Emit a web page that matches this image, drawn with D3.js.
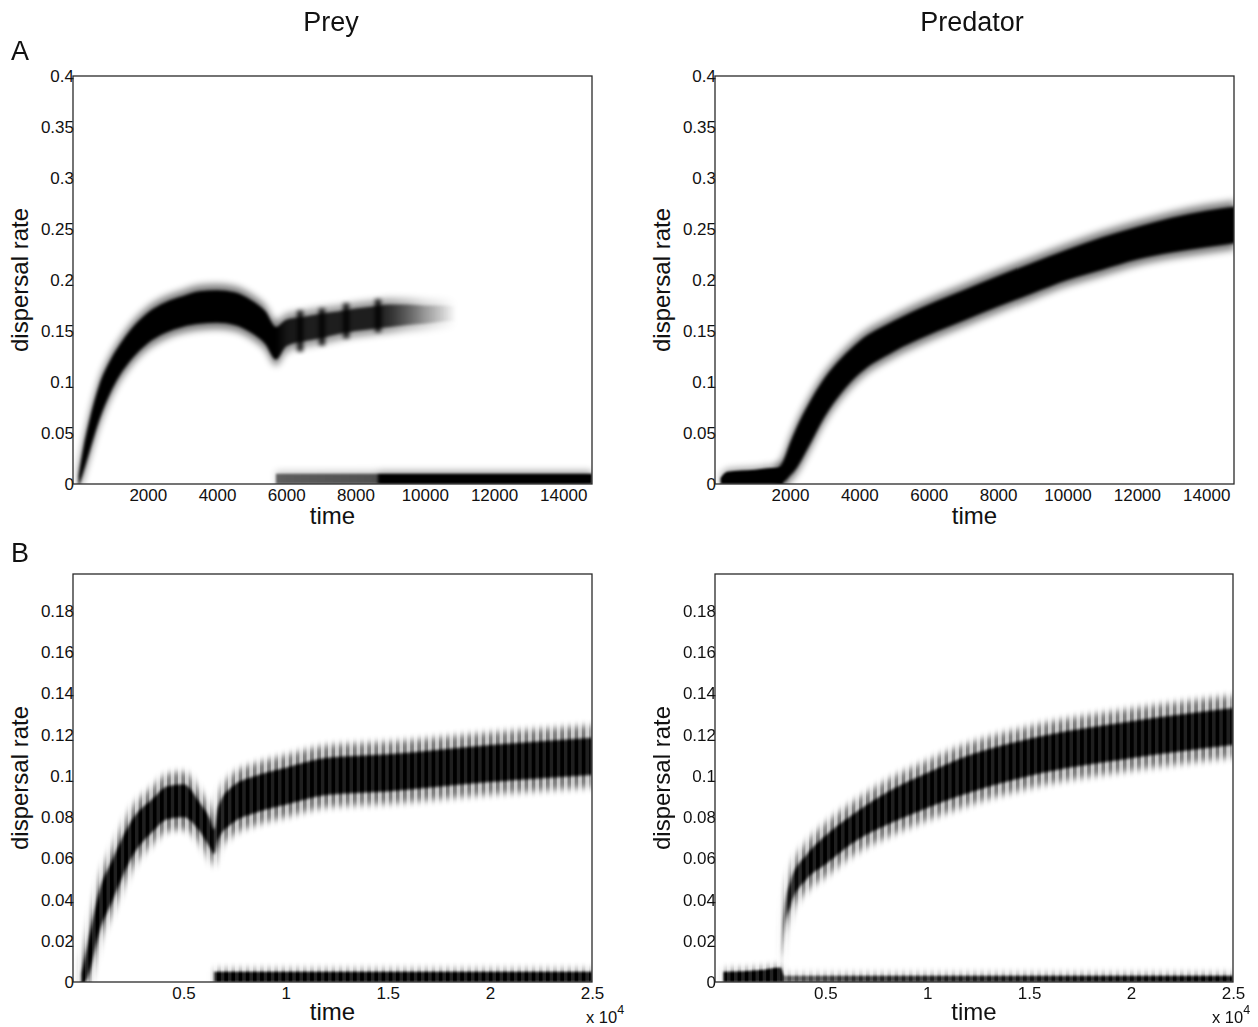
<!DOCTYPE html>
<html><head><meta charset="utf-8">
<script src="https://cdn.jsdelivr.net/npm/d3@7"></script>
<style>
body{margin:0;background:#fff}
svg{display:block}
text{font-family:"Liberation Sans",Arial,Helvetica,sans-serif;fill:#111}
</style>
</head><body>
<svg id="c" width="1258" height="1027"></svg>
<script>
// ---------------- DATA ----------------
// Panel A – prey, main branch
const preyA_t    = [0, 150, 300, 600, 900, 1200, 1500, 2000, 2500, 3000, 3500, 4000, 4500, 5000, 5400, 5700, 6000, 6500, 7000, 7500, 8000, 8500, 8700, 9000, 9500, 10000, 10500, 10900];
const preyA_mid  = [0.002, 0.025, 0.045, 0.080, 0.104, 0.122, 0.136, 0.153, 0.163, 0.169, 0.173, 0.174, 0.172, 0.164, 0.153, 0.138, 0.148, 0.152, 0.155, 0.158, 0.161, 0.163, 0.164, 0.165, 0.166, 0.166, 0.167, 0.167];
const preyA_half = [0.006, 0.012, 0.015, 0.017, 0.016, 0.015, 0.015, 0.015, 0.015, 0.015, 0.016, 0.016, 0.016, 0.016, 0.016, 0.016, 0.013, 0.012, 0.012, 0.011, 0.011, 0.011, 0.011, 0.011, 0.010, 0.009, 0.008, 0.007];
const preyA_ink  = [1, 1, 1, 1, 1, 1, 1, 1, 1, 1, 1, 1, 1, 1, 1, 1, 0.85, 0.8, 0.8, 0.8, 0.8, 0.8, 0.8, 0.7, 0.5, 0.3, 0.14, 0.0];
// Panel A – prey, pulses (dark vertical bars)
const preyA_pulse_t   = [6400, 7030, 7730, 8650];
const preyA_pulse_mid = [0.150, 0.154, 0.160, 0.165];
const preyA_pulse_half= [0.020, 0.018, 0.017, 0.016];
// Panel A – prey, low branch
const preyLowA_t    = [5700, 8600, 8700, 14830];
const preyLowA_mid  = [0.005, 0.005, 0.005, 0.005];
const preyLowA_half = [0.005, 0.005, 0.005, 0.005];
const preyLowA_ink  = [0.55, 0.6, 1, 1];

// Panel A – predator, low branch
const predLowA_t    = [0, 200, 1000, 1600, 1800];
const predLowA_mid  = [0.003, 0.006, 0.007, 0.008, 0.008];
const predLowA_half = [0.003, 0.006, 0.007, 0.008, 0.008];
const predLowA_ink  = [1, 1, 1, 1, 1];
// Panel A – predator, main branch
const predA_t    = [1600, 1800, 2000, 2200, 2500, 3000, 3500, 4000, 5000, 6000, 7000, 8000, 9000, 10000, 11000, 12000, 13000, 14000, 14830];
const predA_mid  = [0.008, 0.012, 0.024, 0.036, 0.055, 0.085, 0.107, 0.124, 0.145, 0.161, 0.175, 0.189, 0.202, 0.215, 0.226, 0.236, 0.244, 0.250, 0.254];
const predA_half = [0.005, 0.010, 0.016, 0.020, 0.021, 0.019, 0.017, 0.016, 0.015, 0.015, 0.015, 0.015, 0.015, 0.015, 0.016, 0.016, 0.017, 0.018, 0.018];
const predA_ink  = [1, 1, 1, 1, 1, 1, 1, 1, 1, 1, 1, 1, 1, 1, 1, 1, 1, 1, 1];

// Panel B – prey, main branch
const preyB_t    = [0, 300, 900, 1500, 2500, 3500, 4200, 5000, 5800, 6300, 6500, 6700, 7400, 8500, 10000, 12000, 15000, 20000, 25000];
const preyB_mid  = [0.001, 0.010, 0.035, 0.049, 0.070, 0.081, 0.087, 0.088, 0.080, 0.072, 0.068, 0.077, 0.086, 0.091, 0.095, 0.0998, 0.1015, 0.106, 0.1095];
const preyB_half = [0.003, 0.008, 0.010, 0.010, 0.009, 0.008, 0.008, 0.008, 0.007, 0.007, 0.006, 0.008, 0.009, 0.009, 0.009, 0.009, 0.009, 0.009, 0.009];
const preyB_ink  = [1, 1, 1, 1, 1, 1, 1, 1, 1, 1, 0.9, 0.95, 1, 1, 1, 1, 1, 1, 1];
// Panel B – prey, low branch
const preyLowB_t    = [6500, 25000];
const preyLowB_mid  = [0.0025, 0.0025];
const preyLowB_half = [0.0025, 0.0025];
const preyLowB_ink  = [1, 1];

// Panel B – predator, low branch
const predLowB_t    = [0, 2000, 2800, 3000, 7000, 25000];
const predLowB_mid  = [0.0025, 0.003, 0.0035, 0.0015, 0.0015, 0.0015];
const predLowB_half = [0.0025, 0.003, 0.0035, 0.0015, 0.0015, 0.0015];
const predLowB_ink  = [1, 1, 1, 0.6, 0.8, 1];
// Panel B – predator, main branch
const predB_t    = [2850, 3000, 3300, 4100, 5000, 6500, 8200, 10000, 11500, 15000, 20000, 25000];
const predB_mid  = [0.012, 0.030, 0.043, 0.056, 0.064, 0.0754, 0.085, 0.093, 0.099, 0.109, 0.1176, 0.124];
const predB_half = [0.003, 0.005, 0.006, 0.006, 0.007, 0.007, 0.008, 0.0085, 0.009, 0.009, 0.009, 0.009];
const predB_ink  = [0.3, 0.75, 0.9, 1, 1, 1, 1, 1, 1, 1, 1, 1];

// Ticks
const yTicksA = [0, 0.05, 0.1, 0.15, 0.2, 0.25, 0.3, 0.35, 0.4];
const xTicksA = [2000, 4000, 6000, 8000, 10000, 12000, 14000];
const yTicksB = [0, 0.02, 0.04, 0.06, 0.08, 0.1, 0.12, 0.14, 0.16, 0.18];
const xTicksB = [5000, 10000, 15000, 20000, 25000];
const stripePeriodB = 350; // time units of oscillation stripes in B

// ---------------- BUILD ----------------
const W = 1258, H = 1027;
const svg = d3.select('#c');
const defs = svg.append('defs');
svg.append('rect').attr('width', W).attr('height', H).attr('fill', '#fff');

function mkBlur(id, sd) {
  const f = defs.append('filter').attr('id', id).attr('filterUnits', 'userSpaceOnUse')
    .attr('x', 0).attr('y', 0).attr('width', W).attr('height', H);
  f.append('feGaussianBlur').attr('stdDeviation', sd);
}
mkBlur('blurCore', 1.6);
mkBlur('blurFuzz', 3.5);
mkBlur('blurLow', 1.0);
mkBlur('blurPulse', 2.2);

function branch(t, mid, half, ink) {
  return t.map((v, i) => ({t: v, mid: mid[i], half: half[i], ink: ink[i]}));
}

let gid = 0;
function gradFor(pts, x) {
  const id = 'g' + (gid++);
  const x1 = x(pts[0].t), x2 = x(pts[pts.length - 1].t);
  const g = defs.append('linearGradient').attr('id', id).attr('gradientUnits', 'userSpaceOnUse')
    .attr('x1', x1).attr('x2', x2).attr('y1', 0).attr('y2', 0);
  pts.forEach(p => g.append('stop').attr('offset', (x(p.t) - x1) / (x2 - x1))
    .attr('stop-color', '#000').attr('stop-opacity', p.ink));
  return 'url(#' + id + ')';
}

function stripeMask(x, L, T, R, B, period, shade) {
  const pw = x(period) - x(0);
  const pid = 'pat' + (gid++);
  const pat = defs.append('pattern').attr('id', pid).attr('patternUnits', 'userSpaceOnUse')
    .attr('x', x(0)).attr('y', 0).attr('width', pw).attr('height', H);
  pat.append('rect').attr('width', pw).attr('height', H).attr('fill', '#fff');
  pat.append('rect').attr('x', pw * 0.5).attr('width', pw * 0.5).attr('height', H).attr('fill', shade);
  const mid = 'mask' + (gid++);
  defs.append('mask').attr('id', mid).attr('maskUnits', 'userSpaceOnUse')
    .attr('x', 0).attr('y', 0).attr('width', W).attr('height', H)
    .append('rect').attr('x', L).attr('y', T).attr('width', R - L).attr('height', B - T).attr('fill', 'url(#' + pid + ')');
  return 'url(#' + mid + ')';
}

function drawPanel(cfg) {
  const {L, T, R, B} = cfg;
  const x = d3.scaleLinear().domain(cfg.xDomain).range([L, R]);
  const y = d3.scaleLinear().domain(cfg.yDomain).range([B, T]);
  const cid = 'clip' + (gid++);
  defs.append('clipPath').attr('id', cid).append('rect').attr('x', L).attr('y', T).attr('width', R - L).attr('height', B - T);

  const g = svg.append('g').attr('clip-path', 'url(#' + cid + ')');
  const fuzzG = g.append('g');
  const coreG = g.append('g');
  if (cfg.stripes) {
    fuzzG.attr('mask', stripeMask(x, L, T, R, B, cfg.stripes, '#6a6a6a'));
    coreG.attr('mask', stripeMask(x, L, T, R, B, cfg.stripes, '#d8d8d8'));
  }

  cfg.branches.forEach(b => {
    const fill = gradFor(b.pts, x);
    const fuzz = b.low ? cfg.fuzzLow : cfg.fuzz;
    const outer = d3.area().curve(d3.curveMonotoneX)
      .x(d => x(d.t)).y0(d => y(d.mid - d.half - fuzz)).y1(d => y(d.mid + d.half + fuzz));
    const core = d3.area().curve(d3.curveMonotoneX)
      .x(d => x(d.t)).y0(d => y(d.mid - d.half)).y1(d => y(d.mid + d.half));
    fuzzG.append('path').attr('d', outer(b.pts)).attr('fill', fill).attr('opacity', b.low ? 0.35 : 0.5)
      .attr('filter', 'url(#blurFuzz)');
    coreG.append('path').attr('d', core(b.pts)).attr('fill', fill)
      .attr('filter', b.low ? 'url(#blurLow)' : 'url(#blurCore)');
  });

  if (cfg.pulses) {
    g.append('g').attr('filter', 'url(#blurPulse)').attr('opacity', 0.85).selectAll('rect').data(cfg.pulses).join('rect')
      .attr('x', d => x(d.t) - 3).attr('width', 6)
      .attr('y', d => y(d.mid + d.half)).attr('height', d => y(d.mid - d.half) - y(d.mid + d.half))
      .attr('fill', '#000');
  }

  // axes (labels only)
  const ya = svg.append('g').attr('transform', `translate(${L + 1},0)`)
    .call(d3.axisLeft(y).tickValues(cfg.yTicks).tickSize(0).tickPadding(0).tickFormat(d => String(+d.toFixed(3))));
  ya.select('.domain').remove();
  ya.selectAll('text').attr('font-size', 17).attr('fill', '#111').attr('font-family', '"Liberation Sans",Arial,sans-serif');

  const xa = svg.append('g').attr('transform', `translate(0,${B})`)
    .call(d3.axisBottom(x).tickValues(cfg.xTicks).tickSize(0).tickPadding(5).tickFormat(cfg.xFmt));
  xa.select('.domain').remove();
  xa.selectAll('text').attr('font-size', 17).attr('fill', '#111').attr('font-family', '"Liberation Sans",Arial,sans-serif');

  svg.append('rect').attr('x', L).attr('y', T).attr('width', R - L).attr('height', B - T)
    .attr('fill', 'none').attr('stroke', '#2a2a2a').attr('stroke-width', 1.3);

  svg.append('text').attr('transform', `translate(${L - 45},${(T + B) / 2}) rotate(-90)`)
    .attr('text-anchor', 'middle').attr('font-size', 24).text('dispersal rate');
  svg.append('text').attr('x', (L + R) / 2).attr('y', cfg.timeY).attr('text-anchor', 'middle')
    .attr('font-size', 24).text('time');
  if (cfg.expX) {
    const t = svg.append('text').attr('x', cfg.expX).attr('y', 1023).attr('font-size', 16.5);
    t.append('tspan').text('x 10');
    t.append('tspan').attr('dy', -9).attr('font-size', 12.5).text('4');
  }
}

const fmtA = d => String(d);
const fmtB = d => String(d / 1e4);

drawPanel({L: 73, T: 76, R: 592, B: 484, xDomain: [-160, 14830], yDomain: [0, 0.4],
  xTicks: xTicksA, yTicks: yTicksA, xFmt: fmtA, timeY: 524, fuzz: 0.006, fuzzLow: 0.003,
  branches: [
    {pts: branch(preyA_t, preyA_mid, preyA_half, preyA_ink)},
    {pts: branch(preyLowA_t, preyLowA_mid, preyLowA_half, preyLowA_ink), low: true}
  ],
  pulses: preyA_pulse_t.map((t, i) => ({t, mid: preyA_pulse_mid[i], half: preyA_pulse_half[i]}))
});
drawPanel({L: 715, T: 76, R: 1234, B: 484, xDomain: [-160, 14800], yDomain: [0, 0.4],
  xTicks: xTicksA, yTicks: yTicksA, xFmt: fmtA, timeY: 524, fuzz: 0.006, fuzzLow: 0.003,
  branches: [
    {pts: branch(predLowA_t, predLowA_mid, predLowA_half, predLowA_ink), low: true},
    {pts: branch(predA_t, predA_mid, predA_half, predA_ink)}
  ]
});
drawPanel({L: 73, T: 574, R: 592, B: 982, xDomain: [-410, 25000], yDomain: [0, 0.198],
  xTicks: xTicksB, yTicks: yTicksB, xFmt: fmtB, timeY: 1020, fuzz: 0.006, fuzzLow: 0.0015,
  stripes: stripePeriodB, expX: 586,
  branches: [
    {pts: branch(preyB_t, preyB_mid, preyB_half, preyB_ink)},
    {pts: branch(preyLowB_t, preyLowB_mid, preyLowB_half, preyLowB_ink), low: true}
  ]
});
drawPanel({L: 715, T: 574, R: 1233, B: 982, xDomain: [-410, 25000], yDomain: [0, 0.198],
  xTicks: xTicksB, yTicks: yTicksB, xFmt: fmtB, timeY: 1020, fuzz: 0.006, fuzzLow: 0.0015,
  stripes: stripePeriodB, expX: 1212,
  branches: [
    {pts: branch(predLowB_t, predLowB_mid, predLowB_half, predLowB_ink), low: true},
    {pts: branch(predB_t, predB_mid, predB_half, predB_ink)}
  ]
});

// Titles and panel letters
svg.append('text').attr('x', 331).attr('y', 31).attr('text-anchor', 'middle').attr('font-size', 27).text('Prey');
svg.append('text').attr('x', 972).attr('y', 31).attr('text-anchor', 'middle').attr('font-size', 27).text('Predator');
svg.append('text').attr('x', 11).attr('y', 60).attr('font-size', 27).text('A');
svg.append('text').attr('x', 11).attr('y', 562).attr('font-size', 27).text('B');
</script>
</body></html>
